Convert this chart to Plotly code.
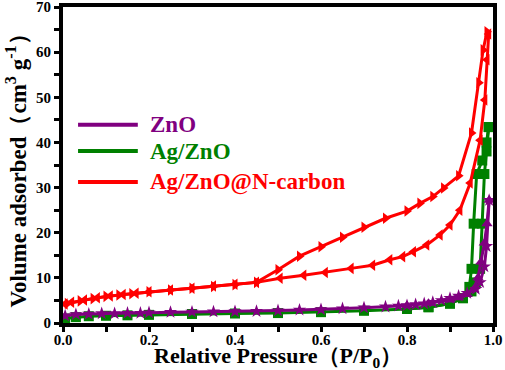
import plotly.graph_objects as go

# ---- data ----
# Ag/ZnO@N-carbon (red)
red_a_p = [0.01, 0.04, 0.07, 0.10, 0.13, 0.16, 0.20, 0.25, 0.30, 0.35, 0.40, 0.45, 0.50, 0.55, 0.60,
           0.65, 0.70, 0.75, 0.80, 0.83, 0.86, 0.885, 0.92, 0.95, 0.967, 0.977, 0.986]
red_a_v = [4.3, 4.9, 5.4, 5.9, 6.2, 6.5, 6.9, 7.3, 7.7, 8.1, 8.5, 9.0, 11.8, 14.8, 16.9,
           19.0, 21.2, 23.2, 24.8, 26.5, 28.0, 29.9, 32.6, 42.1, 53.2, 60.5, 64.5]
red_d_p = [0.99, 0.986, 0.981, 0.97, 0.947, 0.923, 0.90, 0.877, 0.846, 0.815, 0.79, 0.76, 0.72, 0.67,
           0.61, 0.56, 0.505, 0.45, 0.40, 0.35, 0.30, 0.25, 0.20, 0.17, 0.14, 0.11, 0.08, 0.05, 0.02, 0.005]
red_d_v = [64.0, 58.3, 49.4, 40.5, 31.0, 25.0, 21.7, 19.5, 17.3, 15.8, 14.7, 14.0, 12.8, 12.1,
           11.2, 10.6, 9.9, 9.0, 8.6, 8.2, 7.7, 7.3, 6.9, 6.6, 6.3, 6.0, 5.6, 5.1, 4.6, 4.2]

# ZnO (purple)
zno_a_p = [0.005, 0.03, 0.06, 0.09, 0.12, 0.15, 0.18, 0.20, 0.25, 0.30, 0.35, 0.40, 0.45, 0.50, 0.55,
           0.60, 0.65, 0.70, 0.75, 0.78, 0.80, 0.82, 0.84, 0.86, 0.88, 0.90, 0.92, 0.94, 0.96, 0.97,
           0.98, 0.985, 0.991]
zno_a_v = [1.6, 1.9, 2.0, 2.1, 2.1, 2.2, 2.2, 2.3, 2.4, 2.45, 2.5, 2.55, 2.6, 2.75, 2.9,
           3.0, 3.2, 3.4, 3.6, 3.8, 3.9, 4.1, 4.3, 4.6, 5.0, 5.5, 6.0, 6.6, 7.5, 9.0,
           12.5, 17.0, 27.2]
zno_d_p = [0.991, 0.986, 0.98, 0.972, 0.965, 0.955, 0.94, 0.92, 0.90, 0.85, 0.80]
zno_d_v = [27.2, 22.0, 17.7, 13.5, 10.0, 7.5, 6.3, 5.6, 5.1, 4.4, 3.9]

# Ag/ZnO (green)
agz_a_p = [0.005, 0.03, 0.06, 0.10, 0.15, 0.20, 0.30, 0.40, 0.50, 0.60, 0.70, 0.80, 0.85, 0.90,
           0.93, 0.95, 0.96, 0.97, 0.975, 0.98, 0.985, 0.99]
agz_a_v = [1.0, 1.3, 1.5, 1.6, 1.7, 1.8, 2.0, 2.1, 2.2, 2.4, 2.7, 3.1, 3.5, 4.3,
           5.5, 7.0, 9.0, 12.0, 22.0, 33.0, 38.0, 43.4]
agz_d_p = [0.99, 0.985, 0.975, 0.962, 0.955, 0.95, 0.945, 0.93, 0.90, 0.85, 0.80]
agz_d_v = [43.4, 40.0, 36.0, 33.0, 22.0, 12.0, 8.0, 5.5, 4.3, 3.5, 3.1]

series_names = ["ZnO", "Ag/ZnO", "Ag/ZnO@N-carbon"]
series_colors = ["#800080", "#008000", "#FF0000"]

x_ticks = [0.0, 0.2, 0.4, 0.6, 0.8, 1.0]
x_tick_text = ["0.0", "0.2", "0.4", "0.6", "0.8", "1.0"]
y_ticks = [0, 10, 20, 30, 40, 50, 60, 70]

x_title = "Relative Pressure\uff08P/P<sub>0</sub>\uff09"
y_title = "Volume adsorbed\uff08cm<sup>3</sup> g<sup>-1</sup>\uff09"

FONT = "Liberation Serif, Times New Roman, serif"

fig = go.Figure()

def add(px, pv, color, symbol, name):
    fig.add_trace(go.Scatter(
        x=px, y=pv, mode="lines+markers", showlegend=False, name=name,
        line=dict(color=color, width=3),
        marker=dict(color=color, symbol=symbol, size=10, line=dict(width=0)),
    ))

add(agz_a_p, agz_a_v, series_colors[1], "square", series_names[1])
add(agz_d_p, agz_d_v, series_colors[1], "square", series_names[1])
add(zno_a_p, zno_a_v, series_colors[0], "star", series_names[0])
add(zno_d_p, zno_d_v, series_colors[0], "triangle-up", series_names[0])
add(red_a_p, red_a_v, series_colors[2], "triangle-right", series_names[2])
add(red_d_p, red_d_v, series_colors[2], "triangle-left", series_names[2])

# hand-drawn legend (long line samples, text coloured like its series)
legend_y = [0.627, 0.544, 0.446]
for name, color, ly in zip(series_names, series_colors, legend_y):
    fig.add_shape(type="line", xref="paper", yref="paper",
                  x0=0.035, x1=0.174, y0=ly, y1=ly,
                  line=dict(color=color, width=4))
    fig.add_annotation(xref="paper", yref="paper", x=0.198, y=ly,
                       xanchor="left", yanchor="middle", showarrow=False,
                       text=name,
                       font=dict(family=FONT, size=23, color=color, weight="bold"))

# x-axis title placed just below the tick labels
fig.add_annotation(xref="paper", yref="paper", x=0.5, y=-0.108,
                   xanchor="center", yanchor="middle", showarrow=False,
                   text=x_title,
                   font=dict(family=FONT, size=22, color="black", weight="bold"))

axis_common = dict(
    showline=True, linecolor="black", linewidth=4, mirror=True,
    ticks="outside", ticklen=5, tickwidth=3, tickcolor="black",
    showgrid=False, zeroline=False, automargin=False,
    ticklabeloverflow="allow",
    tickfont=dict(family=FONT, size=15, color="black", weight="bold"),
)

fig.update_xaxes(
    range=[0, 1.0], tickvals=x_ticks, ticktext=x_tick_text,
    ticklabelstandoff=-5,
    minor=dict(dtick=0.1, ticks="outside", ticklen=5, tickwidth=3, tickcolor="black"),
    **axis_common,
)
fig.update_yaxes(
    range=[0, 70], tickvals=y_ticks,
    minor=dict(dtick=5, ticks="outside", ticklen=5, tickwidth=3, tickcolor="black"),
    title=dict(text=y_title,
               font=dict(family=FONT, size=23, color="black", weight="bold"), standoff=4),
    **axis_common,
)

fig.update_layout(
    width=505, height=370,
    margin=dict(l=63, r=12, t=7, b=47),
    paper_bgcolor="white", plot_bgcolor="white",
    showlegend=False,
)

fig.write_html("out.html", config={"displayModeBar": False},
               post_script="document.body.style.margin='0px';")
